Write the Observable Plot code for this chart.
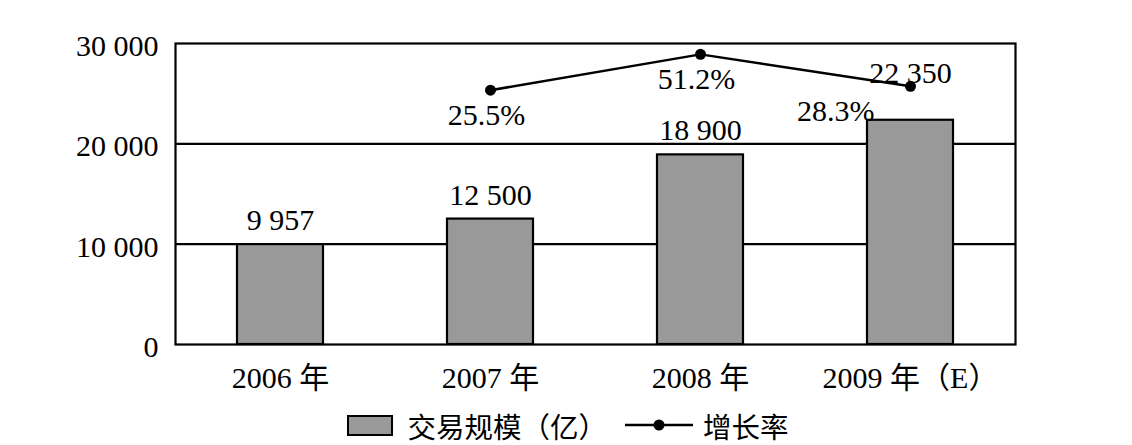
<!DOCTYPE html>
<html><head><meta charset="utf-8">
<script src="https://cdn.jsdelivr.net/npm/d3@7"></script>
<script src="https://cdn.jsdelivr.net/npm/@observablehq/plot@0.6"></script>
<style>
body{margin:0;background:#fff;}
#legend{display:flex;justify-content:center;align-items:center;height:40px;font-family:"Liberation Serif","Times New Roman",Times,"Noto Sans CJK SC",serif;font-size:28.5px;color:#000;margin-left:4px;}
#legend .sw{width:42px;height:17px;background:#999;border:2.5px solid #000;margin-right:14px;}
#legend .ln{margin:0 10px 0 18px;}
svg text{font-family:"Liberation Serif","Times New Roman",Times,"Noto Sans CJK SC",serif;}
</style>
</head><body>
<div id="chart"></div>
<div id="legend"><span class="sw"></span><span>交易规模（亿）</span><svg class="ln" width="68" height="20"><line x1="0" y1="10" x2="68" y2="10" stroke="#000" stroke-width="2.5"/><circle cx="34" cy="10" r="5.5" fill="#000"/></svg><span>增长率</span></div>
<script>
const years = ["2006 年", "2007 年", "2008 年", "2009 年（E）"];
const volumes = [9957, 12500, 18900, 22350];
const volumeLabels = ["9 957", "12 500", "18 900", "22 350"];
const rateYears = ["2007 年", "2008 年", "2009 年（E）"];
const rates = [25.5, 51.2, 28.3];
const rateLabels = ["25.5%", "51.2%", "28.3%"];
const yTicks = [0, 10000, 20000, 30000];
const yTickLabels = ["0", "10 000", "20 000", "30 000"];
const gridValues = [10000, 20000];

// secondary (rate) axis placed onto the main y range, approximating the original
const rateToY = r => 21800 + 139 * r;

const bars = years.map((year, i) => ({year, volume: volumes[i], label: volumeLabels[i]}));
const rateData = rateYears.map((year, i) => ({year, rate: rates[i], ry: rateToY(rates[i]), label: rateLabels[i]}));
const lastYear = years[years.length - 1];

const chart = Plot.plot({
  width: 1132,
  height: 405,
  marginTop: 43,
  marginBottom: 61,
  marginLeft: 175,
  marginRight: 117,
  style: {fontFamily: "\"Liberation Serif\",\"Times New Roman\",Times,\"Noto Sans CJK SC\",serif", fontSize: "30px", color: "#000", background: "#fff"},
  x: {domain: years, paddingInner: 0.59, paddingOuter: 0.295, label: null},
  y: {domain: [0, 30000], label: null},
  marks: [
    Plot.ruleY(gridValues, {stroke: "#000", strokeWidth: 2.2}),
    Plot.barY(bars, {x: "year", y: "volume", fill: "#999", stroke: "#000", strokeWidth: 2.2}),
    Plot.frame({stroke: "#000", strokeWidth: 2.2}),
    Plot.axisY({ticks: yTicks, tickFormat: (d) => yTickLabels[yTicks.indexOf(d)], tickSize: 0, tickPadding: 17, dy: 3, label: null}),
    Plot.axisX({tickSize: 0, tickPadding: 22, label: null}),
    Plot.text(bars.filter(d => d.year !== lastYear), {x: "year", y: "volume", text: "label", dy: -24, fill: "#000"}),
    Plot.text(bars.filter(d => d.year === lastYear), {x: "year", y: "volume", text: "label", dy: -47, fill: "#000"}),
    Plot.line(rateData, {x: "year", y: "ry", stroke: "#000", strokeWidth: 2.5}),
    Plot.dot(rateData, {x: "year", y: "ry", r: 5.5, fill: "#000"}),
    Plot.text(rateData.filter(d => d.year !== lastYear), {x: "year", y: "ry", text: "label", dy: 25, dx: -4, fill: "#000"}),
    Plot.text(rateData.filter(d => d.year === lastYear), {x: "year", y: "ry", text: "label", dy: 25, dx: -36, textAnchor: "end", fill: "#000"})
  ]
});
document.getElementById("chart").appendChild(chart);
</script>
</body></html>
